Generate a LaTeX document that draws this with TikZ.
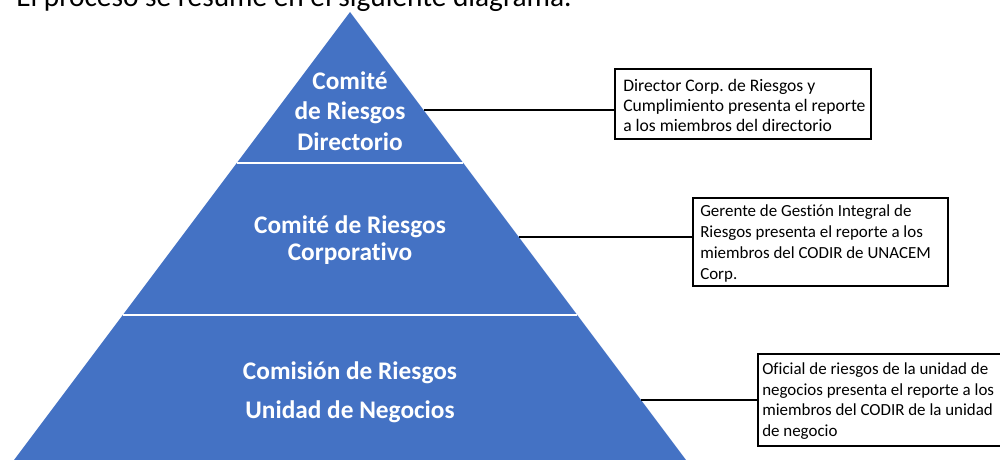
\documentclass[tikz,border=0pt]{standalone}
\usepackage{fontspec}
\setmainfont{Carlito}[Ligatures=CommonOff]
\definecolor{pyrblue}{HTML}{4472C4}
\frenchspacing
\begin{document}
\begin{tikzpicture}[x=0.75pt,y=-0.75pt,
  tier/.style={text=white, align=center, inner sep=0pt},
  tierfont/.style={font=\bfseries\fontsize{19}{#1}\selectfont},
  infobox/.style={draw=black, line width=1.5pt, fill=white, anchor=north west, inner sep=0pt},
  infotext/.style={anchor=west, align=left, inner sep=0pt},
  conn/.style={draw=black, line width=1.5pt},
  sep/.style={draw=white, line width=1.1pt}]
\useasboundingbox (0,0) rectangle (1000,460);
\clip (0,0) rectangle (1000,460);
% intro text (cut at top)
\node[anchor=base west, inner sep=0pt, font=\fontsize{22}{26}\selectfont] (intro) at (16,7) {El proceso se resume en el siguiente diagrama.};
% pyramid
\fill[pyrblue] (350,12) -- (463.25,163) -- (236.75,163) -- cycle;
\fill[pyrblue] (236.75,163) -- (463.25,163) -- (577.25,315) -- (122.75,315) -- cycle;
\fill[pyrblue] (122.75,315) -- (577.25,315) -- (689.75,465) -- (10.25,465) -- cycle;
\draw[sep] (236.75,163) -- (463.25,163);
\draw[sep] (122.75,315) -- (577.25,315);
% tier labels
\node[tier, tierfont=23pt] (t1) at (350,111) {Comité\\de Riesgos\\Directorio};
\node[tier, tierfont=20pt] (t2) at (350,240) {Comité de Riesgos\\Corporativo};
\node[tier, tierfont=29pt] (t3) at (350,392) {Comisión de Riesgos\\Unidad de Negocios};
% boxes
\node[infobox, minimum width=192pt, minimum height=52.5pt] (b1) at (614,68) {};
\node[infobox, minimum width=191.25pt, minimum height=66pt] (b2) at (692,197) {};
\node[infobox, minimum width=186pt, minimum height=69pt] (b3) at (757,353) {};
\node[infotext, font=\fontsize{13.2}{15}\selectfont] (b1t) at (623,105)
  {Director Corp. de Riesgos y\\Cumplimiento presenta el reporte\\a los miembros del directorio};
\node[infotext, font=\fontsize{12.7}{15.75}\selectfont] (b2t) at (700,243.5)
  {Gerente de Gestión Integral de\\Riesgos presenta el reporte a los\\miembros del CODIR de UNACEM\\Corp.};
\node[infotext, font=\fontsize{12.7}{15.4}\selectfont] (b3t) at (762,401)
  {Oficial de riesgos de la unidad de\\negocios presenta el reporte a los\\miembros del CODIR de la unidad\\de negocio};
% connectors
\coordinate (e1) at (423.5,110);
\coordinate (e2) at (518.75,237);
\coordinate (e3) at (641,400);
\draw[conn] (e1) -- (e1 -| b1.west);
\draw[conn] (e2) -- (e2 -| b2.west);
\draw[conn] (e3) -- (e3 -| b3.west);
\end{tikzpicture}
\end{document}
